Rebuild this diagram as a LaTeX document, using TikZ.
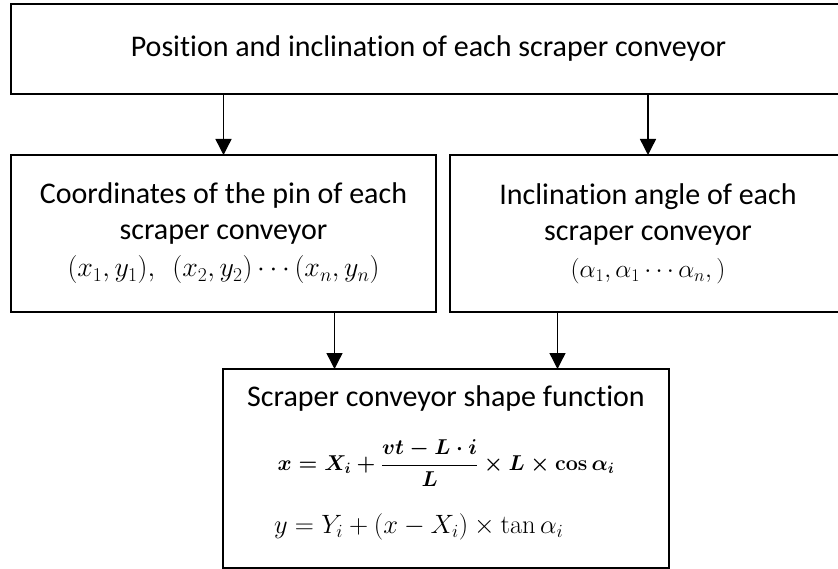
\RequirePackage{fix-cm}
\documentclass[tikz,border=0pt]{standalone}
\usepackage{amsmath}
\usepackage[no-math]{fontspec}
\setmainfont{Carlito}[Ligatures=NoCommon]
\usetikzlibrary{arrows.meta,positioning,calc}

\newcommand{\mathsz}[2]{{\fontsize{#1}{#1}\selectfont #2}}

\begin{document}
\begin{tikzpicture}[x=1pt, y=-1pt,
    box/.style={draw, line width=1.4pt, inner sep=0pt, outer sep=0pt, align=center,
      font=\fontsize{30}{36}\selectfont},
    arr/.style={-{Triangle[length=16pt,width=16pt]}, line width=1.4pt}]
  \useasboundingbox (0,0) rectangle (838,569);

  \node[box, minimum width=835pt, minimum height=90pt] (pos) at (428.5,49)
    {Position and inclination of each scraper conveyor};

  \node[box, minimum width=425pt, minimum height=157pt] (pin) at (223.5,233.5)
    {Coordinates of the pin of each\\ scraper conveyor\\[1pt]
     \mathsz{28}{$(x_1,y_1),\ \ (x_2,y_2)\cdots(x_n,y_n)$}};
  \node[box, minimum width=396pt, minimum height=157pt] (ang) at (648,233.5)
    {Inclination angle of each\\ scraper conveyor\\[1pt]
     \mathsz{25.5}{$(\alpha_1,\alpha_1\cdots\alpha_n,)$}};

  \node[box, minimum width=446pt, minimum height=199pt] (shape) at (446,468.5)
    {Scraper conveyor shape function\\[28pt]
     \mathsz{21.5}{\boldmath$x = X_i + \dfrac{vt - L\cdot i}{L}\times L\times\cos\alpha_i$}\\[26pt]
     \makebox[344pt][l]{\mathsz{26.5}{$y = Y_i + (x - X_i)\times\tan\alpha_i$}}%
     \rule[-18pt]{0pt}{18pt}};

  % arrows into the lower box
  \coordinate (inL) at ($(shape.north)!0.5!(shape.north west)$);
  \coordinate (inR) at ($(shape.north)!0.5!(shape.north east)$);

  \draw[arr] (pos.south -| pin.north) -- (pin.north);
  \draw[arr] (pos.south -| ang.north) -- (ang.north);
  \draw[arr] (inL |- pin.south) -- (inL);
  \draw[arr] (inR |- ang.south) -- (inR);
\end{tikzpicture}
\end{document}
